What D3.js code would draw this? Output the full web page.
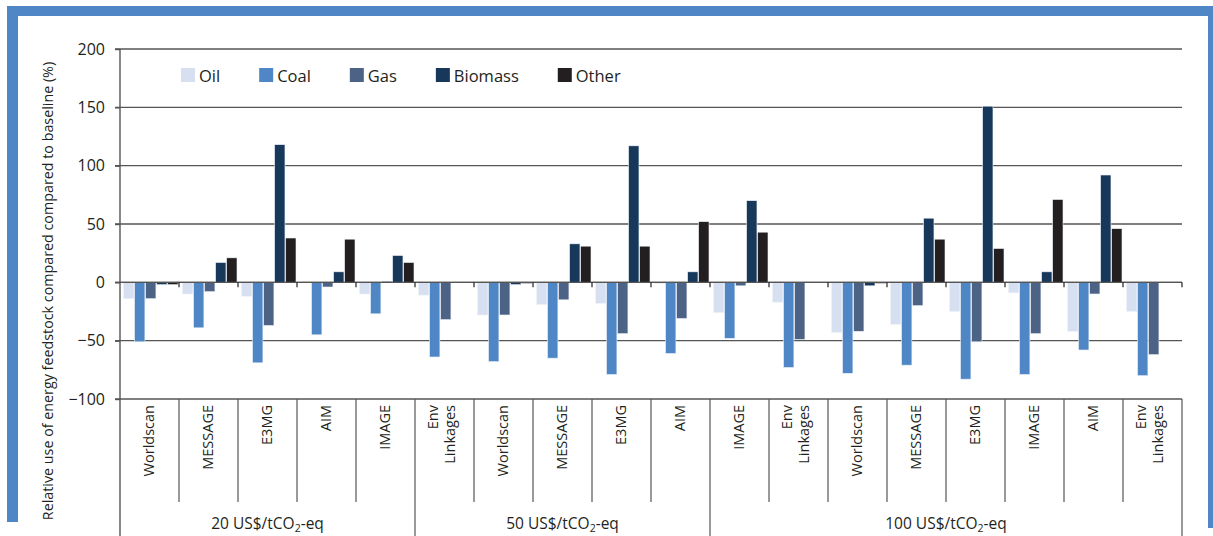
<!DOCTYPE html>
<html>
<head>
<meta charset="utf-8">
<script src="https://cdn.jsdelivr.net/npm/d3@7"></script>
<style>
  html, body { margin: 0; padding: 0; background: #fff; }
  svg { display: block; }
  text { font-family: "Open Sans", "Noto Sans", sans-serif; fill: #231f20; }
</style>
</head>
<body>
<svg id="chart" width="1213" height="536"></svg>
<script>
// ---------- data ----------
const categories = ["Worldscan","MESSAGE","E3MG","AIM","IMAGE",
                    "Env Linkages","Worldscan","MESSAGE","E3MG","AIM",
                    "IMAGE","Env Linkages","Worldscan","MESSAGE","E3MG","IMAGE","AIM","Env Linkages"];
const groupLabels = ["20", "50", "100"];
const groupSizes  = [5, 5, 8];
const seriesNames = ["Oil", "Coal", "Gas", "Biomass", "Other"];
const oil     = [-14,-10,-12,  0,-10,-11,-28,-19,-18, -1,-26,-17,-43,-36,-25, -9,-42,-25];
const coal    = [-51,-39,-69,-45,-27,-64,-68,-65,-79,-61,-48,-73,-78,-71,-83,-79,-58,-80];
const gas     = [-14, -8,-37, -4,  1,-32,-28,-15,-44,-31, -3,-49,-42,-20,-51,-44,-10,-62];
const biomass = [ -2, 17,118,  9, 23,  0, -2, 33,117,  9, 70,  0, -3, 55,151,  9, 92,  0];
const other   = [ -2, 21, 38, 37, 17,  0, -1, 31, 31, 52, 43,  0, -1, 37, 29, 71, 46,  0];
const yTicks  = [-100, -50, 0, 50, 100, 150, 200];
const yTitle  = "Relative use of energy feedstock compared compared to baseline (%)";

// ---------- style ----------
const colors = ["#d6e0f1", "#4f87c6", "#4d6385", "#17385b", "#231f20"];
const frameColor = "#4f87c6";
const lineColor = "#555555";

const svg = d3.select("#chart");

// frame
svg.append("rect").attr("x", 7).attr("y", 6).attr("width", 1206).attr("height", 10).attr("fill", frameColor);
svg.append("rect").attr("x", 7).attr("y", 6).attr("width", 11).attr("height", 516).attr("fill", frameColor);
svg.append("rect").attr("x", 1208).attr("y", 6).attr("width", 5).attr("height", 522).attr("fill", frameColor);

const pLeft = 120, pRight = 1182, pTop = 49, pBottom = 399;

const x = d3.scaleBand().domain(d3.range(categories.length)).range([pLeft, pRight]).padding(0);
const inner = d3.scaleBand().domain(seriesNames).range([3.5, x.bandwidth() - 1]).paddingInner(0.06);
const y = d3.scaleLinear().domain([-100, 200]).range([pBottom, pTop]);

const values = [oil, coal, gas, biomass, other];

// gridlines
svg.append("g").selectAll("line").data(yTicks).join("line")
  .attr("x1", pLeft - 5).attr("x2", pRight)
  .attr("y1", d => y(d)).attr("y2", d => y(d))
  .attr("stroke", lineColor).attr("stroke-width", 1.4);

// y axis
const yAxis = d3.axisLeft(y).tickValues(yTicks).tickSize(5).tickPadding(10).tickFormat(d3.format("d"));
const gy = svg.append("g").attr("transform", `translate(${pLeft},0)`).call(yAxis);
gy.select(".domain").remove();
gy.selectAll(".tick line").attr("stroke", lineColor).attr("stroke-width", 1.4);
gy.selectAll(".tick text").attr("font-size", 16).attr("fill", "#231f20")
  .attr("font-family", '"Open Sans", "Noto Sans", sans-serif');
svg.append("line").attr("x1", pLeft).attr("x2", pLeft).attr("y1", pTop).attr("y2", 536)
  .attr("stroke", lineColor).attr("stroke-width", 1.4);

// bars
const barData = [];
values.forEach((arr, si) => arr.forEach((v, ci) => barData.push({ si, ci, v })));
svg.append("g").selectAll("rect").data(barData.filter(d => d.v !== 0)).join("rect")
  .attr("x", d => x(d.ci) + inner(seriesNames[d.si]))
  .attr("width", inner.bandwidth())
  .attr("y", d => Math.min(y(d.v), y(0)))
  .attr("height", d => Math.abs(y(d.v) - y(0)))
  .attr("fill", d => colors[d.si])
  .attr("stroke", "#eef2f8").attr("stroke-width", 0.6);

// zero line on top
svg.append("line").attr("x1", pLeft - 5).attr("x2", pRight).attr("y1", y(0)).attr("y2", y(0))
  .attr("stroke", lineColor).attr("stroke-width", 1.4);
// ticks on zero line at category boundaries
svg.append("g").selectAll("line").data(d3.range(1, categories.length + 1)).join("line")
  .attr("x1", d => pLeft + d * x.step()).attr("x2", d => pLeft + d * x.step())
  .attr("y1", y(0)).attr("y2", y(0) + 5)
  .attr("stroke", "#231f20").attr("stroke-width", 1.2);

// group boundaries
const groupStarts = [];
let acc = 0;
groupSizes.forEach(s => { groupStarts.push(acc); acc += s; });
const groupBoundaryIdx = new Set(groupStarts.concat([categories.length]));

// category separators
svg.append("g").selectAll("line").data(d3.range(1, categories.length + 1)).join("line")
  .attr("x1", d => pLeft + d * x.step()).attr("x2", d => pLeft + d * x.step())
  .attr("y1", pBottom).attr("y2", d => groupBoundaryIdx.has(d) ? 536 : 502)
  .attr("stroke", lineColor).attr("stroke-width", 1.2);

// category labels
const catG = svg.append("g").selectAll("g").data(categories).join("g")
  .attr("transform", (d, i) => `translate(${x(i) + x.bandwidth() / 2},405) rotate(-90)`);
catG.each(function(d) {
  const words = d.split(" ");
  const t = d3.select(this).append("text").attr("text-anchor", "end").attr("font-size", 14.5);
  if (words.length === 1) {
    t.append("tspan").attr("x", 0).attr("y", 4.5).text(words[0]);
  } else {
    t.append("tspan").attr("x", 0).attr("y", -7).text(words[0]);
    t.append("tspan").attr("x", 0).attr("y", 10.5).text(words.slice(1).join(" "));
  }
});

// group labels
groupSizes.forEach((s, gi) => {
  const x0 = pLeft + groupStarts[gi] * x.step();
  const x1 = x0 + s * x.step();
  const t = svg.append("text").attr("x", (x0 + x1) / 2).attr("y", 529)
    .attr("text-anchor", "middle").attr("font-size", 15.5);
  t.append("tspan").text(groupLabels[gi] + " US$/tCO");
  t.append("tspan").attr("font-size", 10.5).attr("dy", 2.5).text("2");
  t.append("tspan").attr("dy", -2.5).text("-eq");
});

// y title
svg.append("text").attr("transform", "translate(53,291) rotate(-90)")
  .attr("text-anchor", "middle").attr("font-size", 14.3).text(yTitle);

// legend
const legend = svg.append("g").attr("transform", "translate(181,68)");
let lx = 0;
seriesNames.forEach((name, i) => {
  const g = legend.append("g").attr("transform", `translate(${lx},0)`);
  g.append("rect").attr("width", 14).attr("height", 14).attr("fill", colors[i]);
  const t = g.append("text").attr("x", 18).attr("y", 13.5).attr("font-size", 16.5).text(name);
  lx += 18 + t.node().getComputedTextLength() + 39;
});
</script>
</body>
</html>
